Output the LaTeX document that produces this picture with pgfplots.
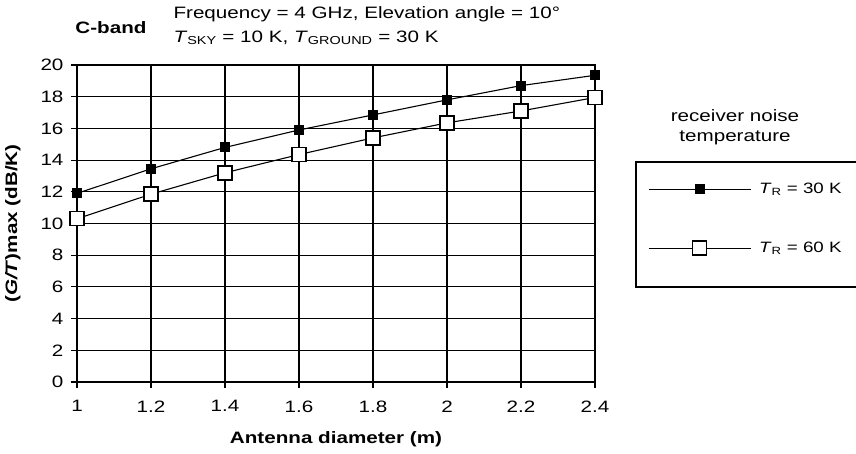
\documentclass[border=0pt]{standalone}
\usepackage{pgfplots}
\pgfplotsset{compat=1.18}
\usepackage{fontspec}
\setmainfont{Liberation Sans}[FakeStretch=1.25]
\newcommand{\fs}{\fontsize{16.5}{19.5}\selectfont}
\begin{document}
\begin{tikzpicture}
\useasboundingbox (0pt,0pt) rectangle (856pt,453pt);
\begin{axis}[
  at={(77pt,71pt)}, anchor=origin,
  scale only axis, width=518pt, height=317pt,
  xmin=1, xmax=2.4, ymin=0, ymax=20,
  xtick={1,1.2,1.4,1.6,1.8,2,2.2,2.4},
  ytick={0,2,4,6,8,10,12,14,16,18,20},
  grid=major,
  grid style={black, line width=1.1pt},
  axis line style={black, line width=1.1pt},
  tick style={black, line width=1.1pt},
  tick align=outside, major tick length=6pt,
  xtick pos=bottom, ytick pos=left,
  /pgf/number format/assume math mode=true,
  ticklabel style={font=\fs},
  xticklabel style={yshift=-9pt},
  yticklabel style={xshift=-4pt},
  label style={font=\fs\bfseries},
  xlabel={Antenna diameter (m)},
  ylabel={(\textit{G/T})max (dB/K)},
  xlabel style={at={(axis description cs:0.5,-0.18)}, anchor=center},
  ylabel style={at={(axis description cs:-0.124,0.5)}, anchor=center},
  clip=false,
  legend cell align=left,
  legend image code/.code={
    \draw[#1, mark=none] (0pt,0pt) -- (102pt,0pt);
    \draw[#1] plot coordinates {(51pt,0pt)};
  },
  legend style={draw=none, fill=none, font=\fontsize{15}{18}\selectfont,
    at={(rel axis cs:1.102,0.628)}, anchor=north west,
    inner sep=0pt, row sep=46pt,
    nodes={inner sep=0pt, anchor=west},
    /tikz/every odd column/.append style={column sep=8pt}},
]
\addplot[black, line width=1.1pt, mark=square*, mark size=4.5pt, mark options={solid, fill=black}]
coordinates {(1,11.9) (1.2,13.45) (1.4,14.8) (1.6,15.9) (1.8,16.85) (2,17.8) (2.2,18.7) (2.4,19.35)};
\addlegendentry{\textit{T}\textsubscript{R} = 30 K}
\addplot[black, line width=1.1pt, mark=square*, mark size=7pt, mark options={solid, fill=white, line width=1.5pt}]
coordinates {(1,10.3) (1.2,11.85) (1.4,13.2) (1.6,14.35) (1.8,15.4) (2,16.35) (2.2,17.1) (2.4,17.95)};
\addlegendentry{\textit{T}\textsubscript{R} = 60 K}
\end{axis}
\draw[black, line width=1.1pt] (636pt,291pt) rectangle (880pt,166pt);
\node[font=\fs, align=center] at (735pt,326pt) {receiver noise\\temperature};
\node[font=\fs\bfseries] at (111pt,425pt) {C-band};
\node[font=\fs, anchor=west] at (170pt,439pt) {Frequency = 4 GHz, Elevation angle = 10°};
\node[font=\fs, anchor=west] at (170pt,415pt) {\textit{T}\textsubscript{SKY} = 10 K, \textit{T}\textsubscript{GROUND} = 30 K};
\end{tikzpicture}
\end{document}
